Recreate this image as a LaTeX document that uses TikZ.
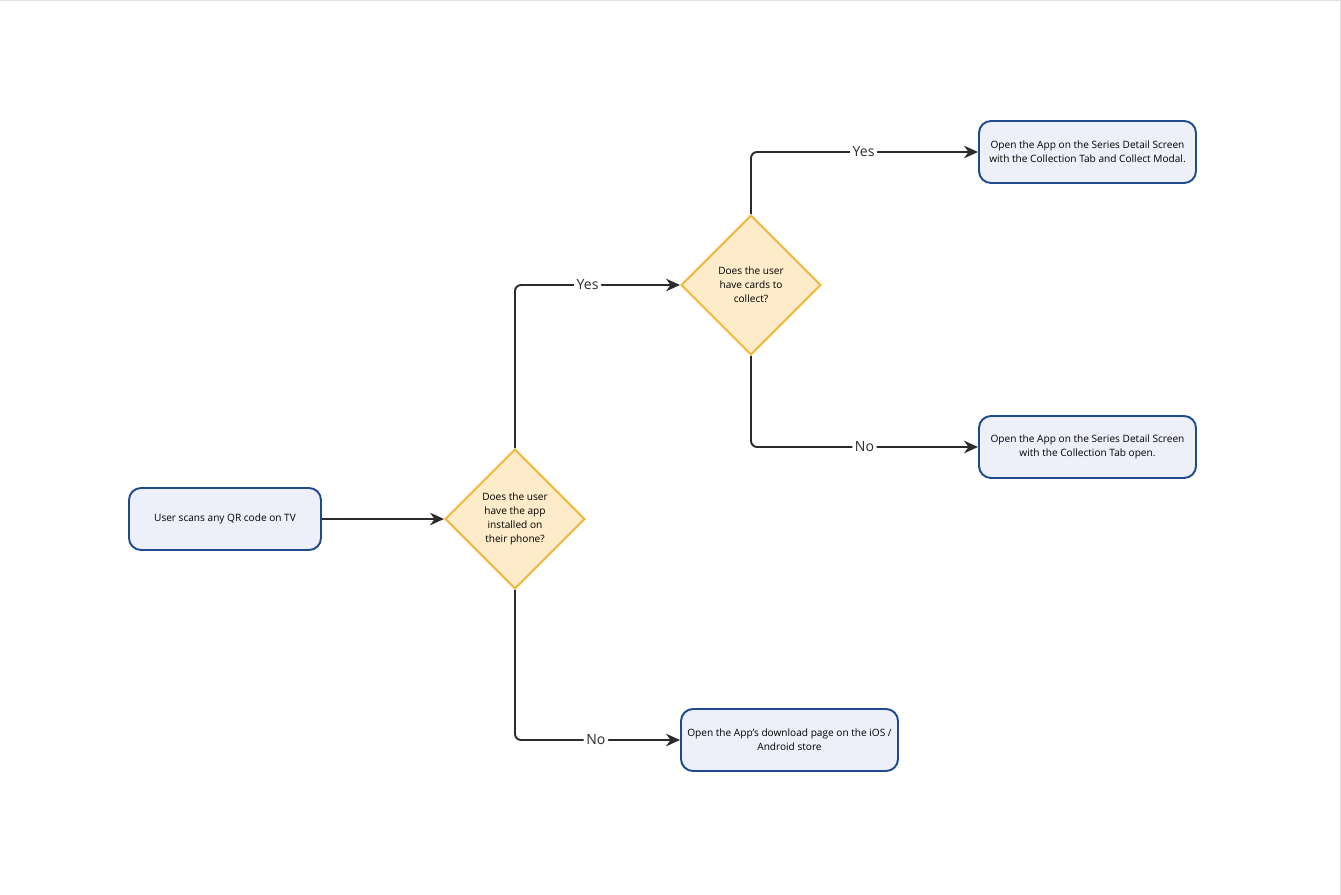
\documentclass[tikz,border=0pt]{standalone}
\usepackage{fontspec}
\setmainfont{Open Sans}
\usetikzlibrary{shapes.geometric,arrows.meta}
\definecolor{boxfill}{HTML}{EDF0FA}
\definecolor{boxline}{HTML}{1F4A8C}
\definecolor{decfill}{HTML}{FDEBC9}
\definecolor{decline}{HTML}{F0B635}
\definecolor{flowline}{HTML}{2B2B2B}
\begin{document}
\begin{tikzpicture}
\useasboundingbox (0,0) rectangle (26.82,-17.9);
\tikzstyle{outcome}=[rectangle,rounded corners=0.24cm,draw=boxline,fill=boxfill,line width=1.1pt,minimum width=4.34cm,minimum height=1.24cm,align=center,font=\fontsize{5.75}{8}\selectfont]
\tikzstyle{decision}=[diamond,aspect=1,draw=decline,fill=decfill,line width=1.1pt,minimum width=2.8cm,minimum height=2.8cm,inner sep=0pt,align=center,font=\fontsize{5.75}{8}\selectfont]
\tikzstyle{flow}=[draw=flowline,line width=1.1pt,rounded corners=0.12cm,-{Stealth[length=2.8mm,width=2.5mm]}]
\tikzstyle{answer}=[fill=white,inner sep=1.5pt,font=\fontsize{8}{9}\selectfont,text=flowline]
% frame of the screenshot
\draw[gray!25,line width=0.6pt] (0,-0.01) -- (26.81,-0.01) -- (26.81,-17.9);
% nodes
\node (scan)[outcome,minimum width=3.84cm] at (4.5,-10.38) {User scans any QR code on TV};
\node (hasapp)[decision] at (10.3,-10.38) {Does the user\\have the app\\installed on\\their phone?};
\node (hascards)[decision] at (15.02,-5.7) {Does the user\\have cards to\\collect?};
\node (modal)[outcome] at (21.75,-3.04) {Open the App on the Series Detail Screen\\with the Collection Tab and Collect Modal.};
\node (tabopen)[outcome] at (21.75,-8.94) {Open the App on the Series Detail Screen\\with the Collection Tab open.};
\node (store)[outcome] at (15.79,-14.8) {Open the App's download page on the iOS /\\Android store};
% connectors
\draw[flow] (scan) -- (hasapp);
\draw[flow] (hasapp.north) |- node[answer,pos=0.72]{Yes} (hascards.west);
\draw[flow] (hasapp.south) |- node[answer,pos=0.745]{No} (store.west);
\draw[flow] (hascards.north) |- node[answer,pos=0.748]{Yes} (modal.west);
\draw[flow] (hascards.south) |- node[answer,pos=0.75]{No} (tabopen.west);
\end{tikzpicture}
\end{document}
